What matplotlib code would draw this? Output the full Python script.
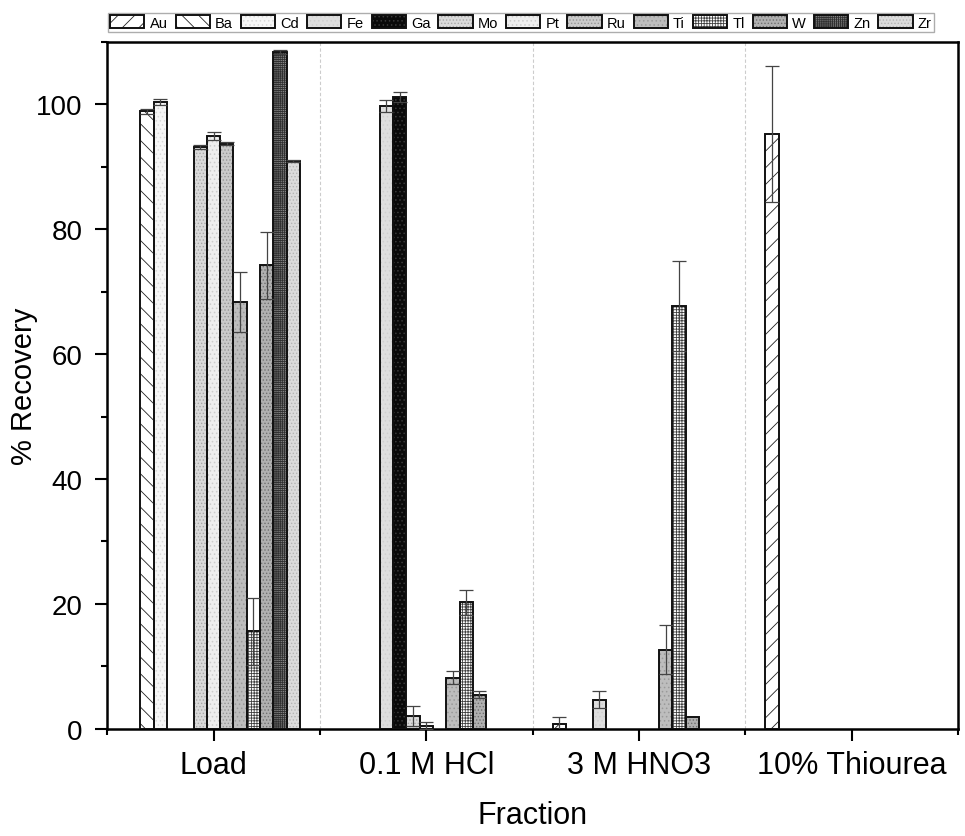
import numpy as np
import matplotlib
matplotlib.use('Agg')
import matplotlib.pyplot as plt
from matplotlib.ticker import MultipleLocator, FixedLocator

plt.rcParams['font.family'] = ['Liberation Sans', 'DejaVu Sans']
plt.rcParams['hatch.linewidth'] = 0.6

# данные
fractions = ['Load', '0.1 M HCl', '3 M HNO3', '10% Thiourea']
elements = ['Au', 'Ba', 'Cd', 'Fe', 'Ga', 'Mo', 'Pt', 'Ru', 'Ti', 'Tl', 'W', 'Zn', 'Zr']

au = [0, 0, 0.8, 95.2]
ba = [98.9, 0, 0, 0]
cd = [100.3, 0, 0, 0]
fe = [0, 99.7, 4.7, 0]
ga = [0, 101.2, 0, 0]
mo = [93.1, 2.1, 0, 0]
pt = [94.9, 0.5, 0, 0]
ru = [93.7, 0, 0, 0]
ti = [68.4, 8.2, 12.7, 0]
tl = [15.6, 20.3, 67.7, 0]
w = [74.2, 5.5, 1.9, 0]
zn = [108.3, 0, 0, 0]
zr = [90.9, 0, 0, 0]

au_err = [0, 0, 1.1, 10.9]
ba_err = [0.4, 0, 0, 0]
cd_err = [0.5, 0, 0, 0]
fe_err = [0, 1.0, 1.3, 0]
ga_err = [0, 0.8, 0, 0]
mo_err = [0.3, 1.6, 0, 0]
pt_err = [0.6, 0.6, 0, 0]
ru_err = [0.3, 0, 0, 0]
ti_err = [4.8, 1.0, 3.9, 0]
tl_err = [5.3, 2.0, 7.2, 0]
w_err = [5.4, 0.5, 0, 0]
zn_err = [0.3, 0, 0, 0]
zr_err = [0.2, 0, 0, 0]

values = [au, ba, cd, fe, ga, mo, pt, ru, ti, tl, w, zn, zr]
errors = [au_err, ba_err, cd_err, fe_err, ga_err, mo_err, pt_err, ru_err,
          ti_err, tl_err, w_err, zn_err, zr_err]

# заливка, штриховка, цвет штриховки
styles = [
    ('white', '//', '#222222'),
    ('white', '\\\\', '#222222'),
    ('#f6f6f6', '....', '#d8d8d8'),
    ('#dedede', '....', '#cfcfcf'),
    ('#0a0a0a', '....', '#3a3a3a'),
    ('#dadada', '.....', '#a8a8a8'),
    ('#eeeeee', '....', '#cccccc'),
    ('#cacaca', '.....', '#959595'),
    ('#bdbdbd', '....', '#9a9a9a'),
    ('white', '++++++', '#404040'),
    ('#b0b0b0', '.....', '#707070'),
    ('#8a8a8a', '++++++++', '#303030'),
    ('#dcdcdc', '.....', '#b5b5b5'),
]

fig = plt.figure(figsize=(9.65, 8.37), dpi=100)
ax = fig.add_axes([0.111, 0.128, 0.882, 0.821])

x = np.arange(1, len(fractions) + 1)
n = len(elements)
width = 0.0625

handles = []
for i, (name, vals, errs) in enumerate(zip(elements, values, errors)):
    vals = np.array(vals, dtype=float)
    errs = np.array(errs, dtype=float)
    pos = x + (i - (n - 1) / 2) * width
    m = vals > 0
    fc, hatch, hc = styles[i]
    b1 = ax.bar(pos[m], vals[m], width, color=fc, hatch=hatch, edgecolor=hc,
                linewidth=0, zorder=2)
    b2 = ax.bar(pos[m], vals[m], width, fill=False, edgecolor='#111111',
                linewidth=1.4, zorder=3)
    e = m & (errs > 0)
    ax.errorbar(pos[e], vals[e], yerr=errs[e], fmt='none', ecolor='#444444',
                elinewidth=0.9, capsize=5, capthick=0.9, zorder=4)
    handles.append((b1.patches[0], b2.patches[0]))

for b in [1.5, 2.5, 3.5]:
    ax.axvline(b, color='#cccccc', linestyle=(0, (3, 2)), linewidth=0.8, zorder=1)

ax.set_xlim(0.5, 4.5)
ax.set_ylim(0, 110)
ax.set_xticks(x)
ax.set_xticklabels(fractions, fontsize=22)
ax.xaxis.set_minor_locator(FixedLocator([0.5, 1.5, 2.5, 3.5, 4.5]))
ax.yaxis.set_major_locator(MultipleLocator(20))
ax.yaxis.set_minor_locator(MultipleLocator(10))
ax.tick_params(axis='y', labelsize=20, pad=9)
ax.tick_params(axis='x', pad=7)
ax.tick_params(which='major', length=8.5, width=1.5, direction='out')
ax.tick_params(which='minor', length=4.5, width=1.5, direction='out')
ax.tick_params(top=False, right=False, which='both')
for s in ax.spines.values():
    s.set_linewidth(1.8)

ax.set_ylabel('% Recovery', fontsize=21)
ax.yaxis.set_label_coords(-0.081, 0.5)
ax.set_xlabel('Fraction', fontsize=22, labelpad=14)

leg = fig.legend(handles, elements, loc='upper left', ncol=13,
                 bbox_to_anchor=(108 / 965, 1 - 14 / 837), fontsize=10.5,
                 handlelength=2.35, handleheight=1.0, handletextpad=0.35,
                 columnspacing=0.55, borderpad=0.15, borderaxespad=0,
                 fancybox=False, frameon=True, edgecolor='#999999')
leg.get_frame().set_linewidth(1.0)

plt.savefig('out.png', dpi=100)
